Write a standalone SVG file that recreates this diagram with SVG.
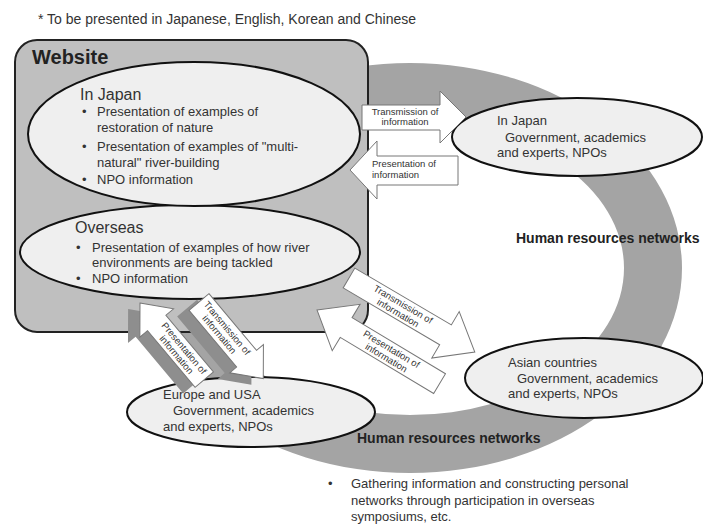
<svg xmlns="http://www.w3.org/2000/svg" width="703" height="524" viewBox="0 0 703 524">
<style>
  text { font-family: "Liberation Sans", Arial, sans-serif; fill: #333; }
  .note { font-size: 14px; }
  .title { font-size: 20px; font-weight: bold; fill: #222; }
  .hdr { font-size: 16px; }
  .body { font-size: 13px; }
  .lbl { font-size: 9.5px; }
  .net { font-size: 14px; font-weight: bold; fill: #222; }
  .node { fill: #efefef; stroke: #111; stroke-width: 2; }
  .arrow { fill: #fff; stroke: #777; stroke-width: 1; }
  .shade { fill: #8e8e8e; }
</style>
<rect width="703" height="524" fill="#fff"/>

<text class="note" x="38" y="24">* To be presented in Japanese, English, Korean and Chinese</text>

<!-- Human resources network ring -->
<g id="ring">
  <path fill="#a4a4a4" fill-rule="evenodd" d="M138,268 a272,205 0 1,0 544,0 a272,205 0 1,0 -544,0 Z M196,268 a214,147 0 1,0 428,0 a214,147 0 1,0 -428,0 Z"/>
  <text class="net" x="516" y="243">Human resources networks</text>
  <text class="net" x="357" y="443">Human resources networks</text>
</g>

<g id="website">
  <rect x="15" y="40" width="353" height="292" rx="22" fill="#bfbfbf" stroke="#222" stroke-width="2"/>
  <text class="title" x="32" y="64">Website</text>
</g>

<g id="overseas">
  <ellipse class="node" cx="190" cy="252" rx="170" ry="47"/>
  <text class="hdr" x="75" y="233">Overseas</text>
  <text class="body" x="76" y="252">•</text>
  <text class="body" x="92" y="252">Presentation of examples of how river</text>
  <text class="body" x="92" y="267">environments are being tackled</text>
  <text class="body" x="76" y="283">•</text>
  <text class="body" x="92" y="283">NPO information</text>
</g>

<g id="site-japan">
  <ellipse class="node" cx="194" cy="134" rx="166" ry="72"/>
  <text class="hdr" x="80" y="100">In Japan</text>
  <text class="body" x="82" y="116">•</text>
  <text class="body" x="97" y="116">Presentation of examples of</text>
  <text class="body" x="97" y="132">restoration of nature</text>
  <text class="body" x="82" y="151">•</text>
  <text class="body" x="97" y="151">Presentation of examples of "multi-</text>
  <text class="body" x="97" y="167">natural" river-building</text>
  <text class="body" x="82" y="184">•</text>
  <text class="body" x="97" y="184">NPO information</text>
</g>

<g id="japan-network">
  <ellipse class="node" cx="577" cy="137" rx="125" ry="39"/>
  <text class="body" x="497" y="125">In Japan</text>
  <text class="body" x="505" y="142">Government, academics</text>
  <text class="body" x="497" y="157">and experts, NPOs</text>
</g>

<g id="asia-network">
  <ellipse class="node" cx="584" cy="378" rx="119" ry="40"/>
  <text class="body" x="508" y="367">Asian countries</text>
  <text class="body" x="517" y="383">Government, academics</text>
  <text class="body" x="508" y="398">and experts, NPOs</text>
</g>

<g id="europe-network">
  <ellipse class="node" cx="251" cy="412" rx="124" ry="35"/>
  <text class="body" x="163" y="399">Europe and USA</text>
  <text class="body" x="173" y="415">Government, academics</text>
  <text class="body" x="163" y="431">and experts, NPOs</text>
</g>

<g id="connectors">
  <!-- Japan: transmission -->
  <g>
    <polygon class="arrow" points="362,105 440,105 440,91 466,117 440,143 440,130 362,130"/>
    <text class="lbl" x="405" y="115" text-anchor="middle">Transmission of</text>
    <text class="lbl" x="405" y="125" text-anchor="middle">information</text>
  </g>
  <!-- Japan: presentation -->
  <g>
    <polygon class="arrow" points="458,156 377,156 377,141 350,170 377,199 377,185 458,185"/>
    <text class="lbl" x="372" y="167">Presentation of</text>
    <text class="lbl" x="372" y="178">information</text>
  </g>
  <!-- Asia: transmission -->
  <g transform="translate(349,278) rotate(30.5)">
    <polygon class="arrow" points="0,-11.5 112,-11.5 112,-27 146,0 112,27 112,11.5 0,11.5"/>
    <text class="lbl" x="60" y="-1.5" text-anchor="middle">Transmission of</text>
    <text class="lbl" x="60" y="8.5" text-anchor="middle">information</text>
  </g>
  <!-- Asia: presentation -->
  <g transform="translate(317,310) rotate(31)">
    <polygon class="arrow" points="0,0 34,-27 34,-11.5 143,-11.5 143,11.5 34,11.5 34,27"/>
    <text class="lbl" x="84" y="-1.5" text-anchor="middle">Presentation of</text>
    <text class="lbl" x="84" y="8.5" text-anchor="middle">information</text>
  </g>
  <!-- Europe: presentation -->
  <g transform="translate(140,303) rotate(50)">
    <polygon class="shade" transform="translate(-3,13)" points="0,0 26,-22 26,-12 100,-12 100,12 26,12 26,22"/>
    <polygon class="arrow" points="0,0 26,-22 26,-12 100,-12 100,12 26,12 26,22"/>
    <text class="lbl" x="63" y="-1.5" text-anchor="middle">Presentation of</text>
    <text class="lbl" x="63" y="8.5" text-anchor="middle">information</text>
  </g>
  <!-- Europe: transmission -->
  <g transform="translate(199,302) rotate(50)">
    <polygon class="shade" transform="translate(-3,13)" points="0,-13 74,-13 74,-22 100,0 74,22 74,13 0,13"/>
    <polygon class="arrow" points="0,-13 74,-13 74,-22 100,0 74,22 74,13 0,13"/>
    <text class="lbl" x="38" y="-1.5" text-anchor="middle">Transmission of</text>
    <text class="lbl" x="38" y="8.5" text-anchor="middle">information</text>
  </g>
</g>

<g id="footnote">
  <text class="body" x="328" y="488">•</text>
  <text class="body" x="351" y="488">Gathering information and constructing personal</text>
  <text class="body" x="351" y="505">networks through participation in overseas</text>
  <text class="body" x="351" y="521">symposiums, etc.</text>
</g>
</svg>
